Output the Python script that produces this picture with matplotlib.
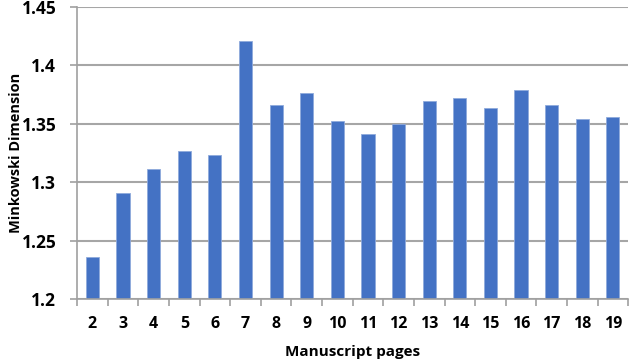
import numpy as np
import matplotlib.pyplot as plt
from matplotlib.ticker import FixedLocator

pages = [2, 3, 4, 5, 6, 7, 8, 9, 10, 11, 12, 13, 14, 15, 16, 17, 18, 19]
dimension = [1.236, 1.291, 1.311, 1.327, 1.323, 1.421, 1.366, 1.376, 1.352,
             1.341, 1.350, 1.369, 1.372, 1.363, 1.379, 1.366, 1.354, 1.356]
yticks = [1.2, 1.25, 1.3, 1.35, 1.4, 1.45]
ytick_labels = ['1.2', '1.25', '1.3', '1.35', '1.4', '1.45']

plt.rcParams['font.family'] = ['Open Sans', 'DejaVu Sans']

fig = plt.figure(figsize=(6.32, 3.63), dpi=100)
ax = fig.add_axes([0.122, 0.175, 0.872, 0.807])

x = np.arange(len(pages))
ax.bar(x, dimension, width=0.43, color='#4472C4', edgecolor='#8FAADC',
       linewidth=0.6, zorder=2)

ax.set_ylim(1.2, 1.45)
ax.set_xlim(-0.5, len(pages) - 0.5)
ax.set_yticks(yticks)
ax.set_yticklabels(ytick_labels, fontsize=12.5, fontweight='bold')
ax.set_xticks(x)
ax.set_xticklabels([str(p) for p in pages], fontsize=11.5, fontweight='bold')
ax.xaxis.set_minor_locator(FixedLocator(np.arange(-0.5, len(pages), 1)))

ax.tick_params(axis='x', which='major', length=0, pad=12)
ax.tick_params(axis='x', which='minor', length=5, width=1.2, color='#A0A0A0', direction='out')
ax.tick_params(axis='y', length=5, width=1.2, color='#A0A0A0', pad=10)

ax.grid(axis='y', color='#A6A6A6', linewidth=1.5, zorder=1)
for side in ['top', 'right']:
    ax.spines[side].set_visible(False)
for side in ['left', 'bottom']:
    ax.spines[side].set_color('#A0A0A0')
    ax.spines[side].set_linewidth(1.2)

ax.set_xlabel('Manuscript pages', fontsize=11, fontweight='bold', va='center')
ax.set_ylabel('Minkowski Dimension', fontsize=10.5, fontweight='bold', va='center')
ax.xaxis.set_label_coords(0.5, -0.18)
ax.yaxis.set_label_coords(-0.11, 0.5)

fig.savefig('out.png', dpi=100)
